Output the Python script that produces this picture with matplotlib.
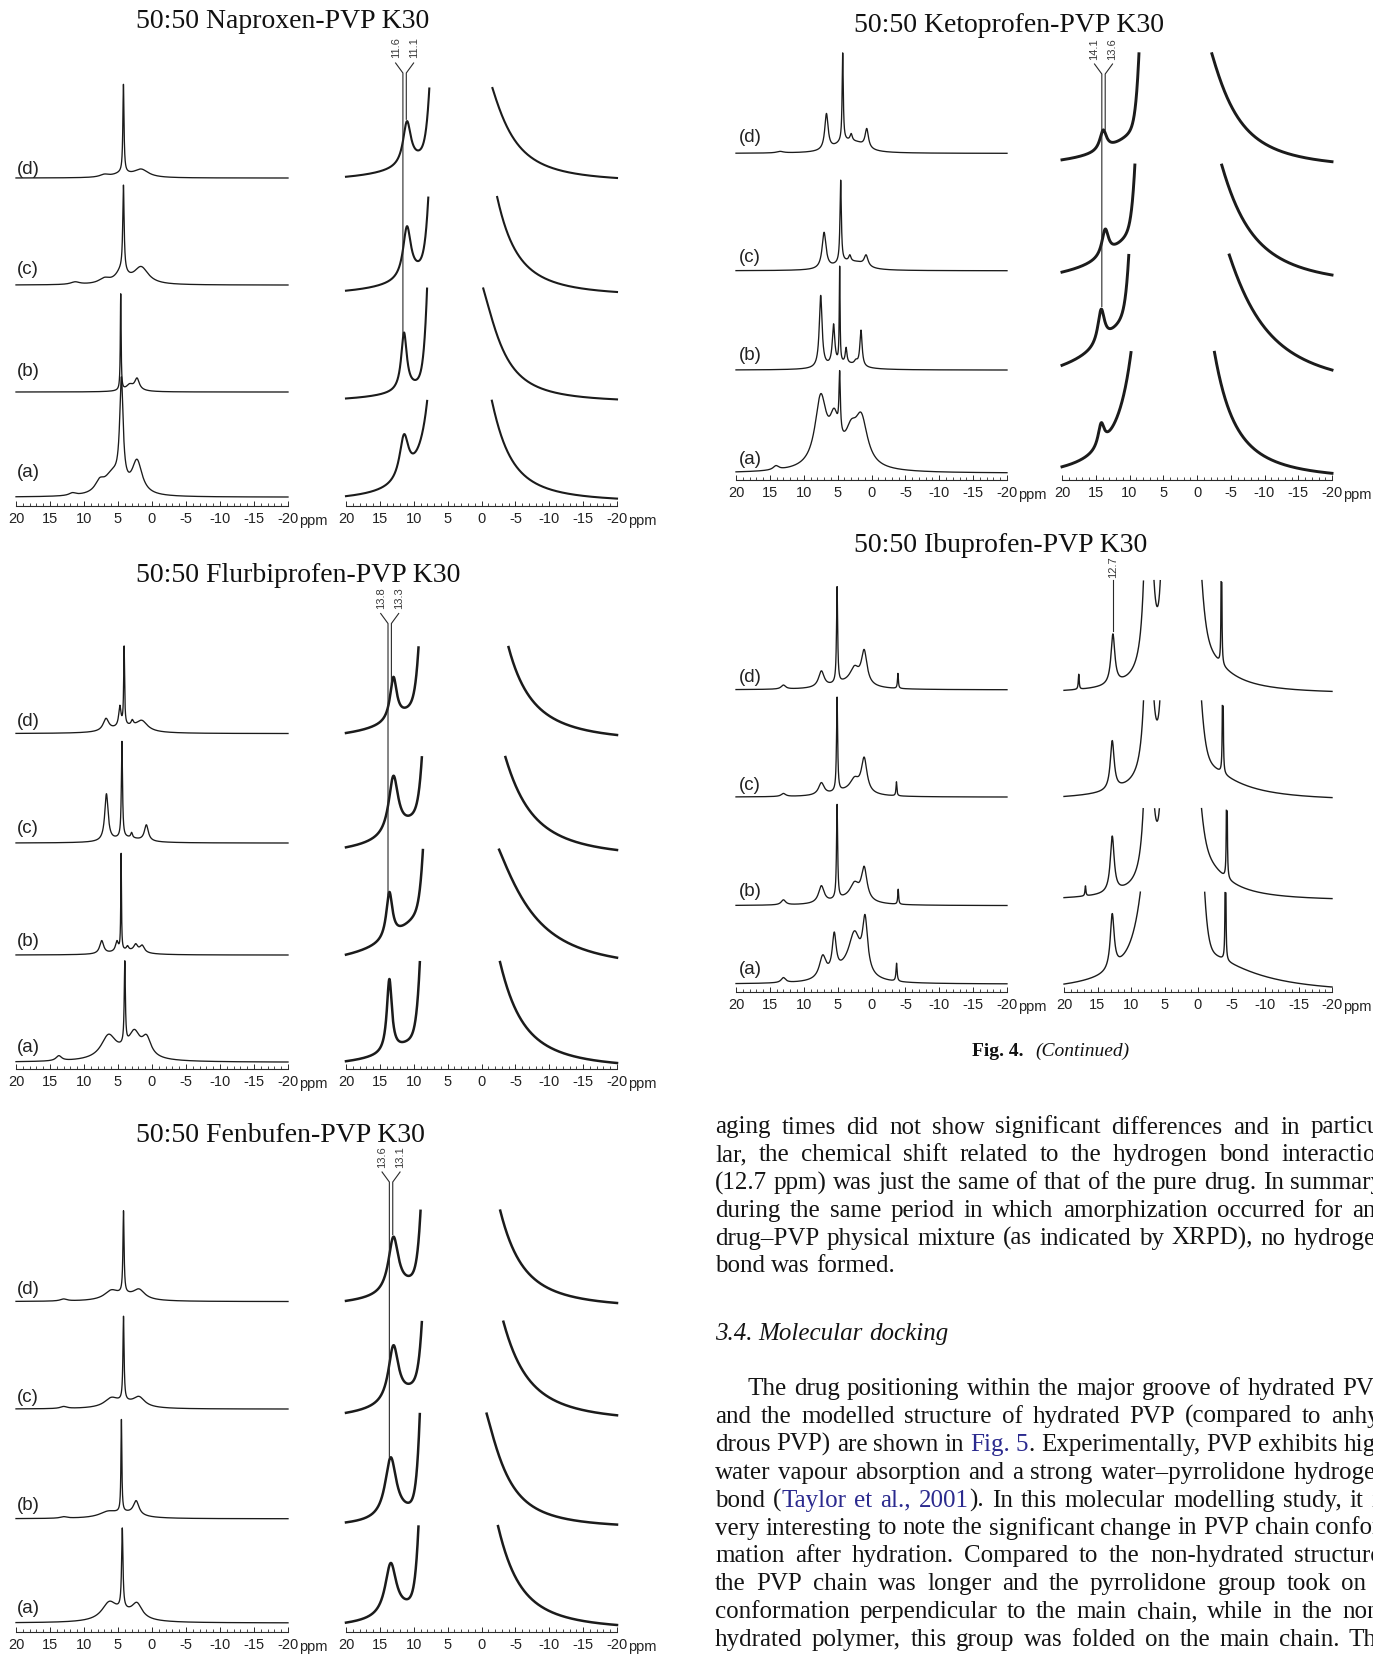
import numpy as np
import matplotlib
matplotlib.use('Agg')
import matplotlib.pyplot as plt
from matplotlib.lines import Line2D

plt.rcParams['axes.unicode_minus'] = False

# ---------------------------------------------------------------- data
PPM_TICKS = [20, 15, 10, 5, 0, -5, -10, -15, -20]
TICK_LABELS = ['20', '15', '10', '5', '0', '-5', '-10', '-15', '-20']
TRACE_LABELS = ['(a)', '(b)', '(c)', '(d)']
TITLES = ['50:50 Naproxen-PVP K30', '50:50 Flurbiprofen-PVP K30', '50:50 Fenbufen-PVP K30',
          '50:50 Ketoprofen-PVP K30', '50:50 Ibuprofen-PVP K30']

# peak components per trace (a, b, c, d): (shape, centre ppm, intensity, half width ppm)
NAPROXEN_LEFT = [
    [('L', 4.5, 104, 0.3), ('L', 2.2, 33, 0.9), ('L', 5.8, 20, 1.5), ('L', 7.7, 10, 0.8), ('L', 11.7, 2.5, 0.6)],
    [('L', 4.6, 96, 0.07), ('L', 2.2, 11, 0.4), ('L', 3.3, 4, 0.5), ('L', 3.0, 3, 1.5)],
    [('L', 4.2, 85, 0.12), ('L', 4.5, 12, 1.0), ('L', 1.6, 17, 1.3), ('L', 7.0, 5, 1.0), ('L', 11.3, 2.5, 0.8)],
    [('L', 4.2, 88, 0.1), ('L', 4.4, 4, 1.5), ('L', 1.6, 8, 1.3), ('L', 7.0, 2.5, 0.8)],
]
NAPROXEN_RIGHT = [
    [('L', 11.44, 43, 0.8), ('L', 1, 155, 3.2), ('L', 6.0, 372, 1.0)],
    [('L', 11.44, 57.5, 0.5), ('L', 1, 128, 3.5), ('G', 6.03, 650, 1.0), ('G', 3.8, 300, 1.2)],
    [('L', 11.0, 51, 0.7), ('L', 1, 200, 3.3), ('G', 5.85, 442, 1.0)],
    [('L', 11.0, 43, 0.7), ('L', 1, 135, 4.0), ('G', 5.7, 425, 1.0)],
]
NAPROXEN_CLIP = [98, 111, 95, 90]
NAPROXEN_SHIFTS = [11.6, 11.1]

FLURBIPROFEN_LEFT = [
    [('L', 13.7, 5, 0.5), ('L', 6.4, 22, 1.3), ('L', 4.0, 82, 0.1), ('L', 2.6, 22, 1.0), ('L', 0.8, 18, 0.8), ('L', 4.0, 6, 3.5)],
    [('L', 7.4, 13, 0.35), ('L', 5.16, 10, 0.25), ('L', 4.54, 96, 0.06), ('L', 3.6, 4, 0.2), ('L', 2.4, 7, 0.35),
     ('L', 1.45, 7, 0.4), ('L', 3.8, 4, 2.5)],
    [('L', 6.7, 47, 0.3), ('L', 4.42, 96, 0.1), ('L', 3.0, 5, 0.15), ('L', 0.83, 16, 0.35), ('L', 3.8, 5, 2.5)],
    [('L', 6.77, 12, 0.5), ('L', 4.73, 20, 0.2), ('L', 4.1, 78, 0.08), ('L', 2.9, 5, 0.2), ('L', 1.5, 10, 1.0), ('L', 4.0, 6, 2.5)],
]
FLURBIPROFEN_RIGHT = [
    [('L', 13.6, 73, 0.45), ('L', 1, 210, 3.83), ('G', 7.1, 506, 1.0)],
    [('L', 13.6, 46.5, 0.55), ('L', 1, 160, 6.4), ('G', 6.65, 405, 1.0)],
    [('L', 13.0, 58, 0.85), ('L', 1, 205, 4.5), ('G', 6.8, 360, 1.0)],
    [('L', 13.0, 43, 0.6), ('L', 1, 280, 3.6), ('G', 7.3, 370, 1.0)],
]
FLURBIPROFEN_CLIP = [101, 108, 93, 88]
FLURBIPROFEN_SHIFTS = [13.8, 13.3]

FENBUFEN_LEFT = [
    [('L', 6.3, 16, 1.3), ('L', 4.37, 80, 0.12), ('L', 2.2, 14, 0.9), ('L', 4.2, 8, 2.5)],
    [('L', 13.0, 1.5, 0.6), ('L', 6.5, 5, 1.5), ('L', 4.5, 92, 0.08), ('L', 2.33, 14, 0.5), ('L', 4.0, 5, 2.5)],
    [('L', 13.0, 2, 0.6), ('L', 6.0, 8, 1.2), ('L', 4.19, 84, 0.1), ('L', 1.9, 9, 1.0), ('L', 4.0, 5, 2.5)],
    [('L', 13.0, 2, 0.6), ('L', 6.0, 8, 1.2), ('L', 4.19, 82, 0.1), ('L', 1.9, 9, 1.0), ('L', 4.0, 5, 2.5)],
]
FENBUFEN_RIGHT = [
    [('L', 13.4, 52, 1.0), ('L', 1, 195, 3.7), ('G', 7.3, 516, 1.0)],
    [('L', 13.4, 60, 1.0), ('L', 1, 140, 3.74), ('G', 7.1, 650, 1.0), ('G', 4.0, 300, 1.3)],
    [('L', 13.0, 56, 0.9), ('L', 1, 210, 4.08), ('G', 6.8, 398, 1.0)],
    [('L', 13.0, 55, 0.9), ('L', 1, 200, 3.7), ('G', 7.0, 446, 1.0)],
]
FENBUFEN_CLIP = [99, 111, 93.6, 92.5]
FENBUFEN_SHIFTS = [13.6, 13.1]

KETOPROFEN_LEFT = [
    [('L', 7.5, 66, 1.0), ('L', 5.5, 36, 0.8), ('L', 4.7, 58, 0.12), ('L', 3.0, 25, 1.0), ('L', 1.5, 45, 1.1),
     ('L', 14.1, 4, 0.5), ('L', 5.0, 8, 4.0)],
    [('L', 7.5, 72, 0.25), ('L', 5.6, 40, 0.22), ('L', 4.7, 95, 0.07), ('L', 3.75, 15, 0.15), ('L', 1.55, 36, 0.2),
     ('L', 2.3, 4, 0.3), ('L', 4.0, 6, 2.5)],
    [('L', 7.0, 36, 0.35), ('L', 4.55, 82, 0.12), ('L', 3.2, 6, 0.2), ('L', 0.8, 11, 0.35), ('L', 4.0, 7, 1.8), ('L', 2.0, 5, 1.5)],
    [('L', 6.65, 36, 0.3), ('L', 4.25, 88, 0.1), ('L', 3.0, 7, 0.2), ('L', 0.7, 19, 0.3), ('L', 4.0, 10, 1.8),
     ('L', 2.0, 6, 1.5), ('L', 13.5, 1.5, 0.6)],
]
KETOPROFEN_RIGHT = [
    [('L', 14.2, 23, 0.55), ('L', 1, 260, 3.24), ('L', 7.0, 284, 2.0)],
    [('L', 14.2, 34, 0.6), ('L', 1, 240, 6.67), ('G', 8.1, 393, 1.0)],
    [('L', 13.6, 26.4, 0.6), ('L', 1, 220, 5.25), ('G', 7.2, 437, 1.0)],
    [('L', 13.9, 20, 0.6), ('L', 1, 170, 4.7), ('G', 6.6, 508, 1.0)],
]
KETOPROFEN_CLIP = [121, 115, 110, 108]
KETOPROFEN_SHIFTS = [14.1, 13.6]

IBUPROFEN_LEFT = [
    [('L', 13.0, 5, 0.4), ('L', 7.2, 22, 0.6), ('L', 5.5, 38, 0.35), ('L', 2.5, 38, 1.0), ('L', 0.95, 52, 0.45),
     ('L', 3.5, 12, 2.5), ('L', -3.7, 18, 0.1)],
    [('L', 13.0, 5, 0.4), ('L', 7.4, 17, 0.5), ('L', 5.08, 94, 0.1), ('L', 2.5, 15, 0.8), ('L', 1.08, 32, 0.5),
     ('L', -3.94, 15, 0.08), ('L', 3.5, 6, 3.0)],
    [('L', 13.0, 3, 0.4), ('L', 7.4, 12, 0.5), ('L', 5.08, 94, 0.1), ('L', 2.5, 12, 0.8), ('L', 1.08, 34, 0.5),
     ('L', -3.68, 14, 0.08), ('L', 3.5, 5, 3.0)],
    [('L', 13.0, 4, 0.4), ('L', 7.4, 16, 0.5), ('L', 5.08, 96, 0.1), ('L', 2.5, 15, 0.8), ('L', 1.08, 33, 0.5),
     ('L', -3.9, 15, 0.08), ('L', 3.5, 6, 3.0)],
]
IBUPROFEN_RIGHT = [
    [('L', 12.8, 55, 0.35), ('L', 7.0, 167, 1.5), ('G', 1.8, 875, 1.2), ('L', 1, 40, 9), ('L', -4.1, 200, 0.05)],
    [('L', 16.8, 10, 0.08), ('L', 12.8, 56, 0.35), ('L', 7.4, 257, 0.5), ('L', 5.1, 167, 0.4), ('G', 1.8, 250, 1.2),
     ('L', 1, 60, 4), ('L', -4.3, 200, 0.05)],
    [('L', 12.8, 49, 0.35), ('L', 7.4, 250, 0.5), ('L', 5.1, 167, 0.4), ('G', 1.8, 380, 1.2), ('L', 1, 43, 6),
     ('L', -3.7, 200, 0.05)],
    [('L', 17.8, 15, 0.08), ('L', 12.7, 50, 0.35), ('L', 7.4, 300, 0.5), ('L', 5.1, 167, 0.4), ('G', 1.8, 400, 1.2),
     ('L', 1, 65, 4), ('L', -3.5, 200, 0.05)],
]
IBUPROFEN_CLIP = [95, 90, 97, 111]
IBUPROFEN_SHIFTS = [12.7]

BODY_PARA1 = [
    "aging times did not show significant differences and in particu-",
    "lar, the chemical shift related to the hydrogen bond interaction",
    "(12.7 ppm) was just the same of that of the pure drug. In summary,",
    "during the same period in which amorphization occurred for any",
    "drug\u2013PVP physical mixture (as indicated by XRPD), no hydrogen",
    "bond was formed.",
]
HEADING = "3.4.  Molecular docking"
BODY_PARA2 = [
    "The drug positioning within the major groove of hydrated PVP",
    "and the modelled structure of hydrated PVP (compared to anhy-",
    "drous PVP) are shown in {Fig. 5}. Experimentally, PVP exhibits high",
    "water vapour absorption and a strong water\u2013pyrrolidone hydrogen",
    "bond ({Taylor et al., 2001}). In this molecular modelling study, it is",
    "very interesting to note the significant change in PVP chain confor-",
    "mation after hydration. Compared to the non-hydrated structure,",
    "the PVP chain was longer and the pyrrolidone group took on a",
    "conformation perpendicular to the main chain, while in the non-",
    "hydrated polymer, this group was folded on the main chain. The",
]
CAPTION_BOLD = "Fig. 4."
CAPTION_ITALIC = "(Continued)"

# ---------------------------------------------------------------- layout (pixels)
W, H = 1373, 1654
PANELS = [
    dict(title=TITLES[0], tx=135.5, ty=21, left=(16, 288), right=(346, 617), axis_y=506,
         base_l=[497, 392, 285, 178], base_r=[498.6, 399.4, 292, 178], lab_x=17, lab_y=[473, 372, 270, 170],
         spec_l=NAPROXEN_LEFT, spec_r=NAPROXEN_RIGHT, clip=NAPROXEN_CLIP, lw_r=1.5,
         shifts=NAPROXEN_SHIFTS, to=[1, 3], cy=48),
    dict(title=TITLES[1], tx=136, ty=576, left=(16, 288), right=(346, 617), axis_y=1069,
         base_l=[1062, 955, 843, 733.5], base_r=[1063, 957.7, 850, 735], lab_x=17, lab_y=[1048, 941, 829, 722],
         spec_l=FLURBIPROFEN_LEFT, spec_r=FLURBIPROFEN_RIGHT, clip=FLURBIPROFEN_CLIP, lw_r=1.8,
         shifts=FLURBIPROFEN_SHIFTS, to=[1, 3], cy=598.5),
    dict(title=TITLES[2], tx=135.5, ty=1136, left=(16, 288), right=(346, 617), axis_y=1632,
         base_l=[1622.8, 1518.7, 1409, 1301.5], base_r=[1625, 1524.6, 1415.3, 1303], lab_x=17,
         lab_y=[1608.6, 1505, 1397.3, 1289.7],
         spec_l=FENBUFEN_LEFT, spec_r=FENBUFEN_RIGHT, clip=FENBUFEN_CLIP, lw_r=1.8,
         shifts=FENBUFEN_SHIFTS, to=[1, 3], cy=1157),
    dict(title=TITLES[3], tx=854, ty=25, left=(736, 1007), right=(1062, 1332), axis_y=480,
         base_l=[472.7, 370, 270.7, 153.3], base_r=[473.3, 370, 275, 161.7], lab_x=738.6, lab_y=[460, 355, 258, 138],
         spec_l=KETOPROFEN_LEFT, spec_r=KETOPROFEN_RIGHT, clip=KETOPROFEN_CLIP, lw_r=2.1,
         shifts=KETOPROFEN_SHIFTS, to=[1, 3], cy=49),
    dict(title=TITLES[4], tx=854, ty=546, left=(736, 1007), right=(1064, 1332), axis_y=992,
         base_l=[983.8, 905.5, 797, 689.7], base_r=[987, 898.6, 797.6, 691.4], lab_x=738.6, lab_y=[970, 892, 785.5, 677],
         spec_l=IBUPROFEN_LEFT, spec_r=IBUPROFEN_RIGHT, clip=IBUPROFEN_CLIP, lw_r=1.0,
         shifts=IBUPROFEN_SHIFTS, to=[3], cy=567),
]

INK = '#1b1b1b'
LINK = '#2b2a8e'


def pt(px):
    return px * 0.72


def fx(x):
    return x / W


def fy(y):
    return 1 - y / H


def spectrum(comps, x):
    s = np.zeros_like(x)
    for kind, c, h, w in comps:
        if kind == 'L':
            s += h * w * w / ((x - c) ** 2 + w * w)
        else:
            s += h * np.exp(-0.5 * ((x - c) / w) ** 2)
    return s


fig = plt.figure(figsize=(W / 100, H / 100), dpi=100)
fig.patch.set_facecolor('white')
PPM = np.linspace(20, -20, 8001)


def make_axes(x0, x1, axis_y, top_y):
    ax = fig.add_axes([fx(x0), fy(axis_y), (x1 - x0) / W, (axis_y - top_y) / H])
    ax.set_xlim(20, -20)
    ax.set_ylim(0, axis_y - top_y)
    ax.patch.set_alpha(0)
    for s in ('left', 'right', 'top'):
        ax.spines[s].set_visible(False)
    ax.spines['bottom'].set_linewidth(0.8)
    ax.spines['bottom'].set_color('#2a2a2a')
    ax.set_yticks([])
    ax.set_xticks(PPM_TICKS)
    ax.set_xticklabels(TICK_LABELS, fontsize=10.5, family='Liberation Sans', color='#222222')
    ax.set_xticks(np.arange(-20, 21, 1), minor=True)
    ax.tick_params(axis='x', which='major', direction='in', length=pt(5), width=0.7, pad=4, color='#2a2a2a')
    ax.tick_params(axis='x', which='minor', direction='in', length=pt(2.6), width=0.6, color='#2a2a2a')
    fig.text(fx(x1 + 11), fy(axis_y + 15), 'ppm', fontsize=10.5, family='Liberation Sans', color='#222222',
             ha='left', va='center')
    return ax


for P in PANELS:
    fig.text(fx(P['tx']), fy(P['ty']), P['title'], family='Liberation Serif', fontsize=20,
             ha='left', va='center', color='#111111')
    top = P['ty'] + 20
    axl = make_axes(P['left'][0], P['left'][1], P['axis_y'], top)
    axr = make_axes(P['right'][0], P['right'][1], P['axis_y'], top)
    ay = P['axis_y']
    for i in range(4):
        s = spectrum(P['spec_l'][i], PPM)
        s = s - s[-1]
        axl.plot(PPM, ay - P['base_l'][i] + s, color=INK, lw=0.95, clip_on=False, solid_joinstyle='round')
        fig.text(fx(P['lab_x']), fy(P['lab_y'][i]), TRACE_LABELS[i], family='Liberation Sans', fontsize=13.5,
                 ha='left', va='center', color='#222222')
        r = spectrum(P['spec_r'][i], PPM)
        r = r - r[-1]
        r = np.where(r > P['clip'][i], np.nan, r)
        axr.plot(PPM, ay - P['base_r'][i] + r, color=INK, lw=P['lw_r'], clip_on=False, solid_joinstyle='round')

    # chemical-shift markers
    x0, x1 = P['right']
    shifts = P['shifts']
    line_x = [x0 + (20 - v) / 40 * (x1 - x0) for v in shifts]
    mid = np.mean(line_x)
    cy = P['cy']
    if len(shifts) == 2:
        lab_x = [mid - 9, mid + 9]
    else:
        lab_x = line_x
    for v, lx, tx, ti in zip(shifts, line_x, lab_x, P['to']):
        fig.text(fx(tx), fy(cy), f'{v:.1f}', rotation=90, family='Liberation Sans', fontsize=8,
                 ha='center', va='center', color='#3a3a3a')
        r = spectrum(P['spec_r'][ti], np.array([v, -20.0]))
        y_end = P['base_r'][ti] - (r[0] - r[1]) - 3
        if len(shifts) == 2:
            xs = [tx, lx, lx]
            ys = [cy + 15, cy + 25, y_end]
        else:
            xs = [lx, lx]
            ys = [cy + 13, y_end]
        fig.add_artist(Line2D([fx(a) for a in xs], [fy(b) for b in ys], color='#2a2a2a', lw=0.8))

# caption
cap1 = fig.text(fx(972), fy(1051), CAPTION_BOLD, family='Liberation Serif', fontsize=14, weight='bold',
                ha='left', va='center', color='#111111')
renderer = fig.canvas.get_renderer()
wcap = cap1.get_window_extent(renderer).width
fig.text(fx(972 + wcap + 12), fy(1051), CAPTION_ITALIC, family='Liberation Serif', fontsize=14, style='italic',
         ha='left', va='center', color='#111111')

# body text
BODY_FS = 18
BODY_FAMILY = 'Liberation Serif'
COL_LEFT, COL_RIGHT = 715, 1388


def parse_words(line):
    words, cur, buf, blue = [], [], '', False
    for ch in line:
        if ch == '{' or ch == '}':
            if buf:
                cur.append((buf, blue))
                buf = ''
            blue = (ch == '{')
        elif ch == ' ':
            if buf:
                cur.append((buf, blue))
                buf = ''
            if cur:
                words.append(cur)
                cur = []
        else:
            buf += ch
    if buf:
        cur.append((buf, blue))
    if cur:
        words.append(cur)
    return words


def text_width(s, **kw):
    t = fig.text(0, 0, s, fontsize=BODY_FS, family=BODY_FAMILY, **kw)
    w = t.get_window_extent(renderer).width
    t.remove()
    return w


SPACE = text_width('a a') - text_width('aa')


def draw_line(line, x_start, y_center, justify, **kw):
    words = parse_words(line)
    widths = [[text_width(t, **kw) for t, b in w] for w in words]
    total = sum(sum(p) for p in widths)
    if justify and len(words) > 1:
        gap = max((COL_RIGHT - x_start - total) / (len(words) - 1), 0.45 * SPACE)
    else:
        gap = SPACE
    x = x_start
    for w, pw in zip(words, widths):
        for (t, b), wd in zip(w, pw):
            fig.text(fx(x), fy(y_center + 7), t, fontsize=BODY_FS, family=BODY_FAMILY,
                     color=LINK if b else '#141414', ha='left', va='baseline', **kw)
            x += wd
        x += gap


for k, line in enumerate(BODY_PARA1):
    draw_line(line, COL_LEFT, 1126.5 + k * 27.8, justify=(k < len(BODY_PARA1) - 1))
draw_line(HEADING, COL_LEFT, 1333, justify=False, style='italic')
for k, line in enumerate(BODY_PARA2):
    draw_line(line, COL_LEFT + (32 if k == 0 else 0), 1388 + k * 27.9, justify=True)

fig.savefig('out.png', dpi=100, facecolor='white')
